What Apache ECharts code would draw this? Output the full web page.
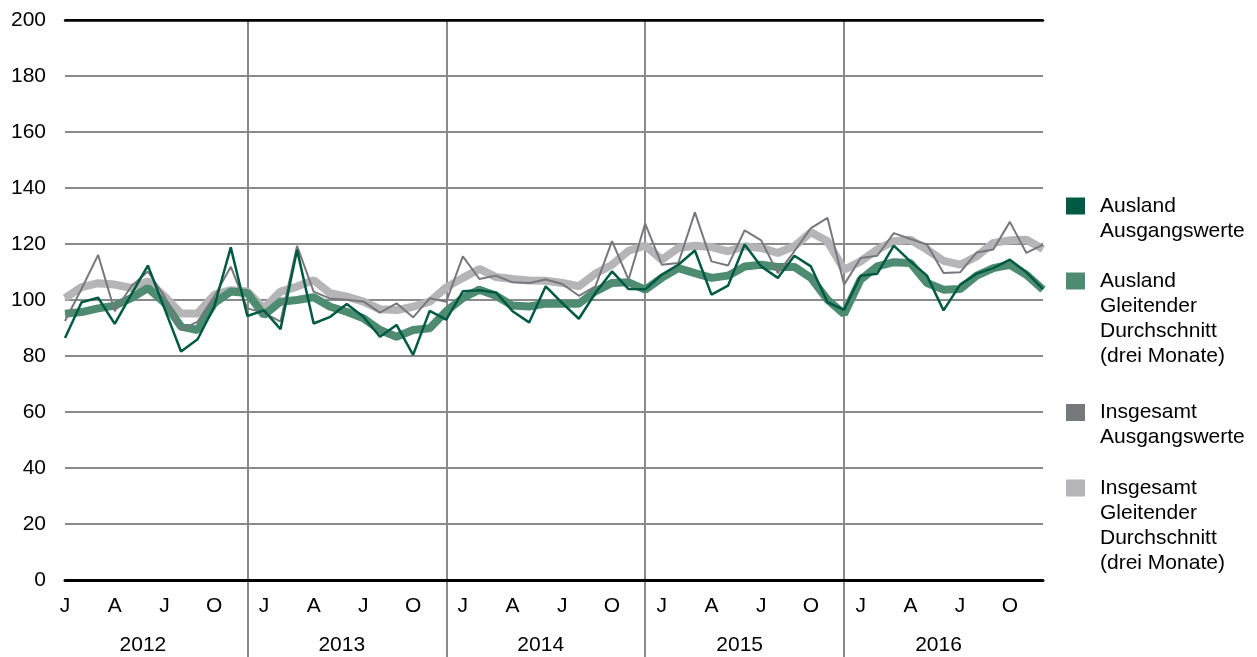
<!DOCTYPE html>
<html>
<head>
<meta charset="utf-8">
<script src="https://cdn.jsdelivr.net/npm/echarts@6/dist/echarts.min.js"></script>
<style>
  html, body { margin: 0; padding: 0; background: #fff; }
  #chart { width: 1257px; height: 657px; }
</style>
</head>
<body>
<div id="chart"></div>
<script>
  // Monatsbuchstaben und Jahre (Achsen)
  var monthLetters = ['J', 'F', 'M', 'A', 'M', 'J', 'J', 'A', 'S', 'O', 'N', 'D'];
  var years = ['2012', '2013', '2014', '2015', '2016'];
  var yTicks = [0, 20, 40, 60, 80, 100, 120, 140, 160, 180, 200];

  // Ausland Ausgangswerte
  var auslandRaw = [
    86.4, 99.2, 100.8, 91.5, 102, 112.3, 97, 81.6, 86, 97.6, 118.8, 94.3,
    96.3, 89.6, 117.9, 91.6, 94, 98.6, 94, 86.9, 91.1, 80.4, 96.1, 93,
    103.1, 103.5, 102.7, 96, 92, 104.9, 98.9, 93.3, 102.5, 110.2, 103.9, 103.8,
    109, 112.6, 117.7, 101.9, 105.1, 119.8, 112, 107.9, 115.8, 112, 99.2, 96.5,
    108.7, 109.4, 119.4, 113.8, 108.7, 96.3, 105.5, 109.4, 111.4, 114.4, 109.9, 103.9
  ];
  // Ausland gleitender Durchschnitt (drei Monate)
  var auslandAvg = [
    95.1, 95.7, 97, 98, 100.7, 104.3, 99, 90.5, 89.3, 98.8, 103, 102.5,
    94.6, 99.4, 100, 101, 97.6, 95.8, 93.5, 89.3, 86.9, 89.3, 89.9, 96,
    100.7, 103.7, 101.5, 98, 97.7, 98.7, 98.7, 98.7, 103.1, 106.1, 106.3, 103.7,
    107.9, 111.4, 109.6, 107.9, 108.7, 112, 112.6, 111.8, 111.8, 107.9, 100.1, 95,
    107.3, 112, 113.5, 113.2, 106.1, 103.7, 103.9, 108.7, 111.4, 112.6, 109, 103.7
  ];
  // Insgesamt Ausgangswerte
  var gesamtRaw = [
    92.5, 104, 116.1, 96, 104.9, 110.2, 101.3, 89.3, 92.3, 101.2, 111.9, 97,
    95.4, 92.3, 119.3, 103, 100.5, 100.1, 99.5, 95.5, 98.8, 93.8, 100.6, 99.4,
    115.6, 107.5, 108.7, 106.3, 106.1, 107.3, 105.7, 101.5, 104.9, 121, 107.3, 127.3,
    112.6, 113.2, 131.3, 113.8, 112.3, 124.9, 121.3, 109.6, 117.4, 125.7, 129.3, 105.5,
    115, 115.8, 123.9, 121.8, 119.8, 109.6, 109.9, 117, 118, 127.9, 116.8, 119.8
  ];
  // Insgesamt gleitender Durchschnitt (drei Monate)
  var gesamtAvg = [
    100.7, 104.6, 106, 105.5, 104.3, 106.7, 101.3, 95.2, 95.2, 101.8, 103.5, 103,
    97, 103, 104.8, 107.1, 102.4, 101.2, 99.4, 96.7, 96.4, 97.6, 99.4, 104.5,
    107.9, 111.1, 108.2, 107.5, 107, 106.9, 106.1, 104.9, 109.4, 112.6, 117.6, 119.4,
    114.4, 118.6, 119.4, 118.9, 117.4, 119.2, 118.6, 116.8, 119.2, 124.2, 121, 110.8,
    113.8, 118, 121, 121.5, 118, 114, 112.6, 115.6, 120.4, 121.3, 121.5, 118.2
  ];

  var categories = [];
  years.forEach(function (y) {
    for (var m = 0; m < 12; m++) {
      categories.push(y + '-' + (m + 1));
    }
  });

  var FONT = 'Liberation Sans, Arial, sans-serif';
  var GRID_GRAY = '#8a8a8a';
  var names = [
    'Ausland\nAusgangswerte',
    'Ausland\nGleitender\nDurchschnitt\n(drei Monate)',
    'Insgesamt\nAusgangswerte',
    'Insgesamt\nGleitender\nDurchschnitt\n(drei Monate)'
  ];

  function yearSep(idx) {
    return idx % 12 === 11 && idx < categories.length - 1;
  }

  // Symbol soll neben der ersten Textzeile stehen: leere Zeilen davor
  function makeLegend(name, top, lines) {
    var pre = '';
    for (var i = 1; i < lines; i++) pre += '\n';
    return {
      data: [name],
      orient: 'vertical',
      left: 1066,
      top: top,
      padding: 0,
      icon: 'rect',
      itemWidth: 19,
      itemHeight: 17,
      selectedMode: false,
      itemStyle: { borderWidth: 0 },
      formatter: function (n) { return pre + n; },
      textStyle: {
        fontFamily: FONT,
        fontSize: 21,
        lineHeight: 25,
        color: '#000',
        padding: [0, 0, 0, 10]
      }
    };
  }

  var splitColors = yTicks.map(function (v) { return v === 200 ? '#000' : GRID_GRAY; });

  var chartsOption = {
    animation: false,
    backgroundColor: '#fff',
    grid: [
      { left: 65, right: 214, top: 20, bottom: 77 },
      { left: 65, right: 214, top: 580, bottom: 0 }
    ],
    legend: [
      makeLegend(names[0], 168.5, 2),
      makeLegend(names[1], 193.5, 4),
      makeLegend(names[2], 375, 2),
      makeLegend(names[3], 400.5, 4)
    ],
    xAxis: [
      {
        // Monate
        type: 'category',
        gridIndex: 0,
        data: categories,
        boundaryGap: false,
        axisLine: { lineStyle: { color: '#000', width: 3 } },
        axisTick: { show: false },
        axisLabel: {
          interval: function (idx) { return idx % 3 === 0; },
          formatter: function (val, idx) { return monthLetters[idx % 12]; },
          fontFamily: FONT,
          fontSize: 21,
          color: '#000',
          margin: 16
        },
        splitLine: {
          show: true,
          interval: yearSep,
          lineStyle: { color: GRID_GRAY, width: 2 }
        }
      },
      {
        // Jahre
        type: 'category',
        gridIndex: 0,
        data: categories,
        boundaryGap: false,
        position: 'bottom',
        offset: 40,
        axisLine: { show: false },
        axisTick: { show: false },
        axisLabel: {
          interval: function (idx) { return idx % 12 === 5; },
          formatter: function (val, idx) { return years[Math.floor(idx / 12)]; },
          fontFamily: FONT,
          fontSize: 21,
          color: '#000',
          margin: 15,
          padding: [0, 10, 0, 0]
        },
        splitLine: { show: false }
      },
      {
        // obere Linie
        type: 'category',
        gridIndex: 0,
        data: categories,
        boundaryGap: false,
        position: 'top',
        axisLine: { lineStyle: { color: '#000', width: 2.5 } },
        axisTick: { show: false },
        axisLabel: { show: false },
        splitLine: { show: false }
      },
      {
        // Jahrestrenner unterhalb der Achse
        type: 'category',
        gridIndex: 1,
        data: categories,
        boundaryGap: false,
        axisLine: { show: false },
        axisTick: { show: false },
        axisLabel: { show: false },
        splitLine: {
          show: true,
          interval: yearSep,
          lineStyle: { color: GRID_GRAY, width: 2 }
        }
      }
    ],
    yAxis: [
      {
        type: 'value',
        gridIndex: 0,
        min: 0,
        max: 200,
        interval: 20,
        axisLine: { show: false },
        axisTick: { show: false },
        axisLabel: {
          fontFamily: FONT,
          fontSize: 21,
          color: '#000',
          margin: 19
        },
        splitLine: { lineStyle: { color: splitColors, width: 2 } }
      },
      {
        type: 'value',
        gridIndex: 1,
        show: false,
        splitLine: { show: false }
      }
    ],
    series: [
      {
        name: names[3],
        type: 'line',
        data: gesamtAvg,
        symbol: 'none',
        itemStyle: { color: '#b5b5b7' },
        lineStyle: { color: '#b5b5b7', width: 8 }
      },
      {
        name: names[1],
        type: 'line',
        data: auslandAvg,
        symbol: 'none',
        itemStyle: { color: '#4e8c71' },
        lineStyle: { color: '#4e8c71', width: 8 }
      },
      {
        name: names[2],
        type: 'line',
        data: gesamtRaw,
        symbol: 'none',
        itemStyle: { color: '#77787b' },
        lineStyle: { color: '#77787b', width: 2 }
      },
      {
        name: names[0],
        type: 'line',
        data: auslandRaw,
        symbol: 'none',
        itemStyle: { color: '#005a43' },
        lineStyle: { color: '#005a43', width: 2.5 }
      }
    ]
  };

  var myChart = echarts.init(document.getElementById('chart'));
  chartsOption && myChart.setOption(chartsOption, true);
</script>
</body>
</html>
